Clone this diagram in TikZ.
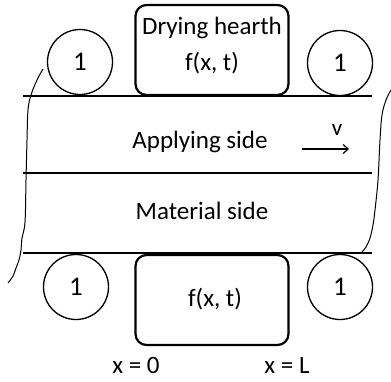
\documentclass[tikz,border=0pt]{standalone}
\usepackage{fontspec}
\setmainfont{Carlito}
\usetikzlibrary{arrows.meta, positioning}

\begin{document}
\begin{tikzpicture}[x=1pt, y=-1pt,
      roll/.style={draw, circle, line width=1.3pt, minimum size=65pt, inner sep=0pt,
                   font=\fontsize{27}{30}\selectfont},
      hearth/.style={draw, line width=2.2pt, rounded corners=11pt,
                     minimum width=153pt, minimum height=90pt, inner sep=0pt},
      lbl/.style={inner sep=0pt, font=\fontsize{25}{28}\selectfont},
      belt/.style={line width=1.8pt},
      edge/.style={line width=1pt},
      arr/.style={-{Straight Barb[length=5pt, width=9pt]}, line width=1.2pt}]
    \useasboundingbox (0,0) rectangle (391,381);
    % rolls and hearths
    \node[roll] (rtl) at (80,62) {1};
    \node[roll] (rtr) at (340,63) {1};
    \node[roll] (rbl) at (76,287) {1};
    \node[roll] (rbr) at (340,287) {1};
    \node[hearth] (top) at (212,50) {};
    \node[hearth] (bot) at (212,300) {};
    \node[lbl] (dry) at (212,28) {Drying hearth};
    \node[lbl] (ftop) at (212,63) {f(x, t)};
    \node[lbl] (fbot) at (215,299) {f(x, t)};
    % belt
    \coordinate (a1) at (23,96);  \coordinate (a2) at (372,96);
    \coordinate (b1) at (23,173); \coordinate (b2) at (372,173);
    \coordinate (c1) at (23,253); \coordinate (c2) at (372,253);
    \draw[belt] (a1) -- (a2);
    \draw[line width=1.2pt] (b1) -- (b2);
    \draw[belt] (c1) -- (c2);
    \node[lbl] (app) at (200,142) {Applying side};
    \node[lbl] (mat) at (202,211) {Material side};
    % speed
    \coordinate (vs) at (302,149);
    \coordinate (ve) at (349,149);
    \draw[arr] (vs) -- (ve);
    \node[inner sep=0pt, font=\fontsize{23}{26}\selectfont] (v) at (337,130) {v};
    % torn edges
    \draw[edge] plot[smooth, tension=0.6] coordinates {(43,69) (37,80) (31,95) (28,110)
      (27,140) (26,180) (25,222) (22,238) (21,250) (19,260) (16,268) (13,276) (8,283)};
    \draw[edge] plot[smooth, tension=0.6] coordinates {(391,90) (386,100) (382,115)
      (380,140) (378,180) (375,210) (373,225) (370,238) (366,247) (362,252)};
    % positions
    \node[lbl] (x0) at (136,365) {x = 0};
    \node[lbl] (xl) at (287,365) {x = L};
  \end{tikzpicture}
\end{document}
